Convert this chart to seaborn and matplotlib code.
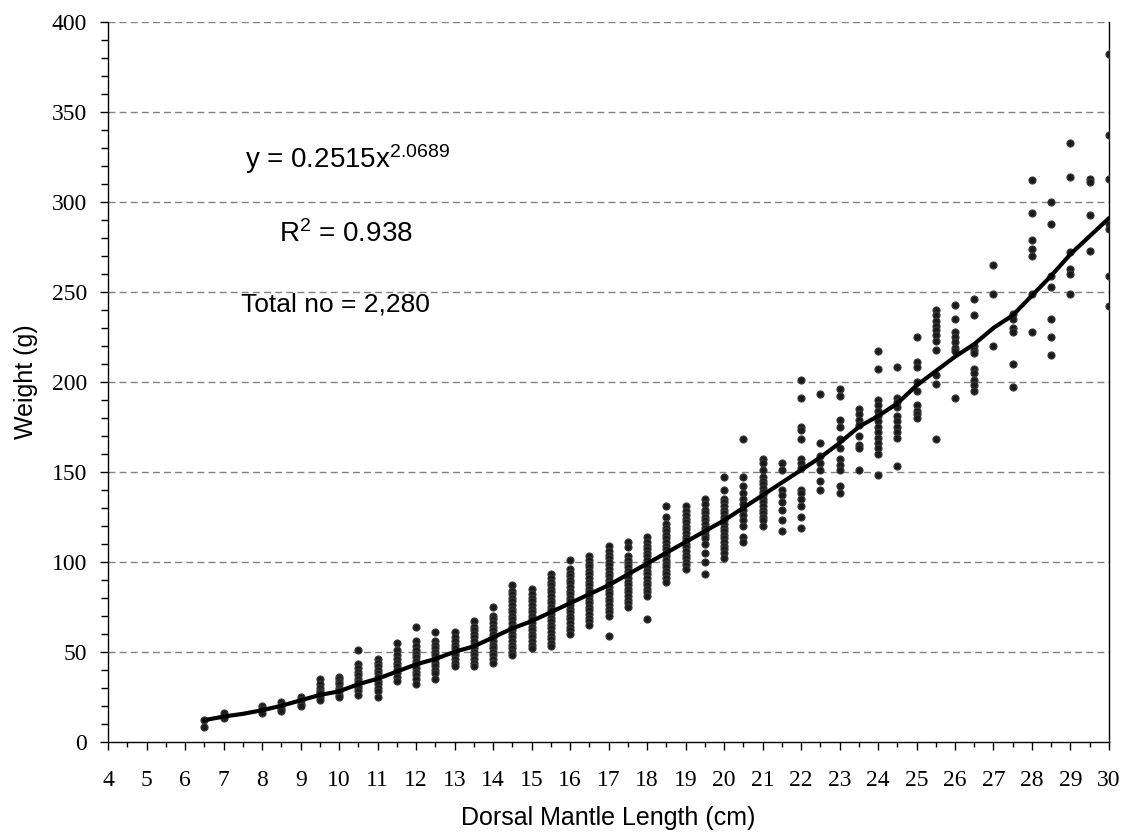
import pandas as pd
import matplotlib
matplotlib.use("Agg")
import matplotlib.pyplot as plt
import seaborn as sns
from matplotlib.ticker import MultipleLocator

# length classes (cm) and the weights (g) plotted in each class
dml_cm = [6.5, 7, 8, 8.5, 9, 9.5, 10, 10.5, 11, 11.5, 12, 12.5, 13, 13.5, 14,
          14.5, 15, 15.5, 16, 16.5, 17, 17.5, 18, 18.5, 19, 19.5, 20, 20.5,
          21, 21.5, 22, 22.5, 23, 23.5, 24, 24.5, 25, 25.5, 26, 26.5, 27,
          27.5, 28, 28.5, 29, 29.5, 30]
weight_g = [
    [12, 8],
    [16, 14, 13],
    [20, 18, 16],
    [22, 20, 18, 17],
    [25, 23, 21, 20],
    [35, 32, 30, 28, 27, 25, 23],
    [36, 35, 33, 32, 30, 29, 28, 26, 25],
    [51, 43, 41, 39, 37, 35, 33, 31, 30, 28, 26],
    [46, 44, 42, 40, 38, 36, 34, 32, 30, 28, 25],
    [55, 51, 48, 46, 44, 42, 40, 38, 36, 34],
    [64, 56, 53, 51, 49, 47, 45, 43, 41, 39, 37, 35, 32],
    [61, 56, 54, 52, 50, 48, 46, 44, 42, 40, 38, 35],
    [61, 58, 56, 54, 52, 50, 48, 46, 44, 42],
    [67, 64, 62, 60, 58, 56, 54, 52, 50, 48, 46, 44, 42],
    [75, 70, 68, 66, 64, 62, 60, 58, 56, 54, 52, 50, 48, 46, 44],
    [87, 84, 82, 80, 78, 76, 74, 72, 70, 68, 66, 64, 62, 60, 58, 56, 54, 52, 50, 48],
    [85, 82, 80, 78, 76, 74, 72, 70, 68, 66, 64, 62, 60, 58, 56, 54, 52],
    [93, 91, 89, 87, 85, 83, 81, 79, 77, 75, 73, 71, 69, 67, 65, 63, 61, 59, 57, 55, 53],
    [101, 96, 94, 92, 90, 88, 86, 84, 82, 80, 78, 76, 74, 72, 70, 68, 66, 64, 62, 60],
    [103, 101, 99, 97, 95, 93, 91, 89, 87, 85, 83, 81, 79, 77, 75, 73, 71, 69, 67, 65],
    [109, 106, 104, 102, 100, 98, 96, 94, 92, 90, 88, 86, 84, 82, 80, 78, 76, 74, 72, 70, 59],
    [111, 108, 103, 101, 99, 97, 95, 93, 91, 89, 87, 85, 83, 81, 79, 77, 75],
    [114, 111, 109, 107, 105, 103, 101, 99, 97, 95, 93, 91, 89, 87, 85, 83, 81, 68],
    [131, 125, 121, 119, 117, 115, 113, 111, 109, 107, 105, 103, 101, 99, 97, 95, 93, 91, 89],
    [131, 128, 126, 124, 122, 120, 118, 116, 114, 112, 110, 108, 106, 104, 102, 100, 98, 96],
    [135, 132, 129, 127, 125, 123, 121, 119, 117, 115, 113, 110, 105, 100, 93],
    [147, 140, 135, 133, 131, 129, 127, 125, 123, 121, 119, 117, 115, 113, 111, 109, 107, 105, 102],
    [168, 147, 142, 138, 135, 132, 129, 126, 123, 120, 114, 111],
    [157, 155, 151, 147, 145, 143, 141, 139, 137, 135, 133, 131, 129, 127, 125, 123, 120],
    [155, 151, 140, 137, 133, 129, 123, 117],
    [201, 191, 175, 173, 168, 157, 155, 152, 140, 138, 135, 131, 125, 119],
    [193, 166, 159, 155, 151, 145, 140],
    [196, 192, 179, 175, 168, 163, 157, 154, 151, 142, 138],
    [185, 182, 179, 176, 170, 165, 163, 151],
    [217, 207, 190, 187, 184, 181, 178, 175, 172, 169, 166, 163, 160, 148],
    [208, 191, 189, 186, 181, 178, 175, 172, 169, 153],
    [225, 211, 208, 200, 195, 187, 184, 182, 180],
    [240, 237, 234, 231, 229, 226, 223, 218, 204, 199, 168],
    [243, 235, 228, 225, 222, 219, 217, 191],
    [246, 237, 220, 218, 216, 207, 205, 201, 198, 195],
    [265, 249, 220],
    [238, 235, 230, 228, 210, 197],
    [312, 294, 279, 274, 270, 249, 228],
    [300, 288, 259, 253, 235, 225, 215],
    [333, 314, 272, 263, 260, 249],
    [313, 311, 293, 273],
    [382, 337, 313, 288, 285, 259, 242],
]

# trend line as drawn (weight at each class)
trend_x = [6.5, 7, 7.5, 8, 8.5, 9, 9.5, 10, 10.5, 11, 11.5, 12, 12.5, 13, 13.5,
           14, 14.5, 15, 15.5, 16, 16.5, 17, 17.5, 18, 18.5, 19, 19.5, 20,
           20.5, 21, 21.5, 22, 22.5, 23, 23.5, 24, 24.5, 25, 25.5, 26, 26.5,
           27, 27.5, 28, 28.5, 29, 29.5, 30]
trend_y = [12, 14, 15.5, 17.5, 20, 23, 26, 28, 32, 35, 39, 43, 46, 50, 53,
           58, 63, 67, 72, 77, 82, 87, 93, 99, 105, 111, 117, 123, 130, 137,
           144, 151, 158, 166, 175, 181, 188, 198, 206, 214, 221, 230, 237,
           248, 259, 271, 281, 291]

rows = [(x, w) for x, ws in zip(dml_cm, weight_g) for w in ws]
df = pd.DataFrame(rows, columns=["DML", "Weight"])
df_trend = pd.DataFrame({"DML": trend_x, "Weight": trend_y})

sns.set_style("white")
plt.rcParams["font.family"] = ["Liberation Sans", "DejaVu Sans"]
plt.rcParams["mathtext.fontset"] = "custom"
plt.rcParams["mathtext.rm"] = "Liberation Sans"
plt.rcParams["mathtext.it"] = "Liberation Sans"
for key in ["text.color", "axes.labelcolor", "xtick.color", "ytick.color"]:
    plt.rcParams[key] = "black"

fig = plt.figure(figsize=(11.27, 8.32), dpi=100)
ax = fig.add_axes([0.096, 0.1085, 0.888, 0.865])

for v in range(50, 401, 50):
    ax.axhline(v, color="#808080", lw=1.0, dashes=(5, 3), zorder=0)

sns.scatterplot(data=df, x="DML", y="Weight", ax=ax, s=26, color="#1a1a1a",
                edgecolor="#3a3a3a", linewidth=0.8, zorder=3)
sns.lineplot(data=df_trend, x="DML", y="Weight", ax=ax, color="black",
             linewidth=3, zorder=4)

ax.set_xlim(4, 30)
ax.set_ylim(0, 400)
ax.xaxis.set_major_locator(MultipleLocator(1))
ax.xaxis.set_minor_locator(MultipleLocator(0.5))
ax.yaxis.set_major_locator(MultipleLocator(50))
ax.yaxis.set_minor_locator(MultipleLocator(10))
ax.tick_params(axis="both", which="major", labelsize=17,
               labelfontfamily="Liberation Serif", labelcolor="black")
ax.tick_params(axis="x", which="both", bottom=True, direction="out",
               width=1, color="black")
ax.tick_params(axis="y", which="both", left=True, direction="out",
               width=1, color="black")
ax.tick_params(axis="x", which="major", length=6, pad=14)
ax.tick_params(axis="x", which="minor", length=3.5)
ax.tick_params(axis="y", which="major", length=6, pad=9)
ax.tick_params(axis="y", which="minor", length=5)

for side in ["left", "bottom", "right"]:
    ax.spines[side].set_visible(True)
    ax.spines[side].set_color("black")
    ax.spines[side].set_linewidth(1.0)
ax.spines["top"].set_visible(False)

ax.set_xlabel("Dorsal Mantle Length (cm)", fontsize=18, labelpad=11)
ax.set_ylabel("Weight (g)", fontsize=18, labelpad=10)

ax.text(7.55, 324, "y = 0.2515x$^{2.0689}$", fontsize=20, va="center")
ax.text(8.45, 282, "R$^{2}$ = 0.938", fontsize=20, va="center")
ax.text(7.45, 243, "Total no = 2,280", fontsize=19, va="center")

plt.savefig("out.png", dpi=100)
